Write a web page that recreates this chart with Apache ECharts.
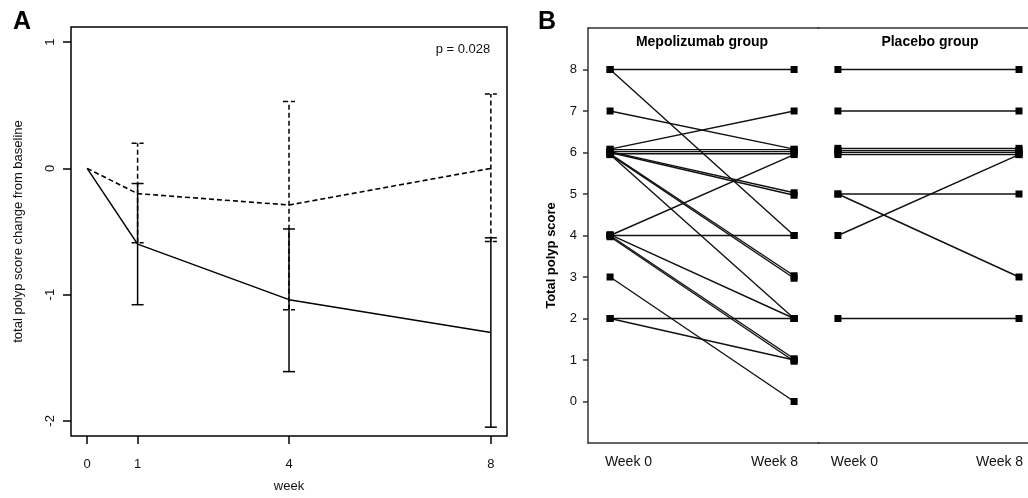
<!DOCTYPE html>
<html><head><meta charset="utf-8">
<script src="https://cdn.jsdelivr.net/npm/echarts@6/dist/echarts.min.js"></script>
<style>html,body{margin:0;padding:0;background:#fff}#c{width:1028px;height:498px}</style>
</head><body><div id="c"></div>
<script>
// ---------- Panel A: mean change from baseline ----------
const weeksA = [0, 1, 4, 8];
const mepoMeanA = [0, -0.6, -1.04, -1.3];
const mepoLowA = [null, -1.08, -1.61, -2.05];
const mepoHighA = [null, -0.12, -0.48, -0.55];
const placMeanA = [0, -0.2, -0.29, 0];
const placLowA = [null, -0.59, -1.12, -0.58];
const placHighA = [null, 0.2, 0.53, 0.59];
const yTicksA = [-2, -1, 0, 1];
const pText = 'p = 0.028';

// ---------- Panel B: individual scores ----------
const timeLabels = ['Week 0', 'Week 8'];
const timeWeeks = [0, 8];
const mepoWeek0 = [8, 8, 7, 6.08, 6.07, 6.02, 5.97, 6.02, 6.0, 5.97, 5.95, 5.95, 4, 4, 4.02, 4, 3.97, 3, 2, 2];
const mepoWeek8 = [8, 4, 6.08, 7, 6.07, 6.02, 5.97, 5.03, 4.97, 3.03, 2.97, 2, 5.95, 4, 2, 1.03, 0.97, 0, 2, 1];
const placWeek0 = [8, 7, 6.1, 6.05, 6.0, 5.95, 5, 5, 4, 2];
const placWeek8 = [8, 7, 6.1, 6.05, 6.0, 5.95, 5, 3, 5.95, 2];
const yTicksB = [0, 1, 2, 3, 4, 5, 6, 7, 8];

const FONT = '"Liberation Sans", Arial, sans-serif';
const chart = echarts.init(document.getElementById('c'), null, {renderer: 'canvas'});

function errData(low, high) {
  const d = [];
  weeksA.forEach((w, i) => { if (low[i] != null) d.push([w, low[i], high[i]]); });
  return d;
}
function errRender(dashed) {
  return function (params, api) {
    const x = api.value(0), lo = api.value(1), hi = api.value(2);
    const p1 = api.coord([x, lo]), p2 = api.coord([x, hi]);
    const hw = 6;
    const style = {stroke: '#000', lineWidth: 1.5, lineDash: dashed ? [5, 3] : null, fill: null};
    return {type: 'group', children: [
      {type: 'line', shape: {x1: p1[0], y1: p1[1], x2: p2[0], y2: p2[1]}, style},
      {type: 'line', shape: {x1: p1[0] - hw, y1: p1[1], x2: p1[0] + hw, y2: p1[1]}, style},
      {type: 'line', shape: {x1: p2[0] - hw, y1: p2[1], x2: p2[0] + hw, y2: p2[1]}, style}
    ]};
  };
}

const series = [
  {type: 'line', xAxisIndex: 0, yAxisIndex: 0, data: weeksA.map((w, i) => [w, mepoMeanA[i]]),
   showSymbol: false, symbol: 'none', lineStyle: {color: '#000', width: 1.5}, animation: false},
  {type: 'line', xAxisIndex: 0, yAxisIndex: 0, data: weeksA.map((w, i) => [w, placMeanA[i]]),
   showSymbol: false, symbol: 'none', lineStyle: {color: '#000', width: 1.6, type: [5, 3]}, animation: false},
  {type: 'custom', xAxisIndex: 0, yAxisIndex: 0, data: errData(mepoLowA, mepoHighA),
   encode: {x: 0, y: [1, 2]}, renderItem: errRender(false), animation: false},
  {type: 'custom', xAxisIndex: 0, yAxisIndex: 0, data: errData(placLowA, placHighA),
   encode: {x: 0, y: [1, 2]}, renderItem: errRender(true), animation: false}
];

function addPatients(w0, w8, xi, yi) {
  w0.forEach((v, i) => {
    series.push({type: 'line', xAxisIndex: xi, yAxisIndex: yi,
      data: [[timeWeeks[0], v], [timeWeeks[1], w8[i]]],
      symbol: 'rect', symbolSize: 7, showSymbol: true,
      itemStyle: {color: '#000'}, lineStyle: {color: '#111', width: 1.4}, animation: false});
  });
}
addPatients(mepoWeek0, mepoWeek8, 1, 1);
addPatients(placWeek0, placWeek8, 3, 2);

const labelFmt = v => (v < 4 ? timeLabels[0] : timeLabels[1]);
const lineStyleB = {color: '#333', width: 1.5};

const option = {
  backgroundColor: '#fff',
  animation: false,
  grid: [
    {left: 71, top: 27, width: 436, height: 415, show: true, borderColor: '#000', borderWidth: 1.5, backgroundColor: 'transparent'},
    {left: 588, top: 28, width: 231, height: 415, show: false},
    {left: 818, top: 28, width: 210, height: 415, show: false}
  ],
  xAxis: [
    {type: 'value', gridIndex: 0, min: -0.32, max: 8.32, position: 'bottom',
     axisLine: {show: false, onZero: false}, splitLine: {show: false},
     axisTick: {show: true, customValues: weeksA, length: 8, lineStyle: {color: '#000', width: 1.5}},
     axisLabel: {customValues: weeksA, margin: 22, fontSize: 13, color: '#111', fontFamily: FONT},
     name: 'week', nameLocation: 'middle', nameGap: 44,
     nameTextStyle: {fontSize: 13, color: '#111', fontFamily: FONT}},
    {type: 'value', gridIndex: 1, min: -0.96, max: 9.083, position: 'bottom',
     axisLine: {show: true, onZero: false, lineStyle: lineStyleB}, splitLine: {show: false},
     axisTick: {show: false},
     axisLabel: {customValues: [0.8, 7.15], formatter: labelFmt, margin: 12, fontSize: 14, color: '#111', fontFamily: FONT}},
    {type: 'value', gridIndex: 1, min: -0.96, max: 9.083, position: 'top',
     axisLine: {show: true, onZero: false, lineStyle: lineStyleB}, splitLine: {show: false},
     axisTick: {show: false}, axisLabel: {show: false}},
    {type: 'value', gridIndex: 2, min: -0.88, max: 8.398, position: 'bottom',
     axisLine: {show: true, onZero: false, lineStyle: lineStyleB}, splitLine: {show: false},
     axisTick: {show: false},
     axisLabel: {customValues: [0.73, 7.14], formatter: labelFmt, margin: 12, fontSize: 14, color: '#111', fontFamily: FONT}},
    {type: 'value', gridIndex: 2, min: -0.88, max: 8.398, position: 'top',
     axisLine: {show: true, onZero: false, lineStyle: lineStyleB}, splitLine: {show: false},
     axisTick: {show: false}, axisLabel: {show: false}}
  ],
  yAxis: [
    {type: 'value', gridIndex: 0, min: -2.12, max: 1.12, position: 'left',
     axisLine: {show: false, onZero: false}, splitLine: {show: false},
     axisTick: {show: true, customValues: yTicksA, length: 8, lineStyle: {color: '#000', width: 1.5}},
     axisLabel: {customValues: yTicksA, rotate: 90, margin: 14, fontSize: 13, color: '#111', fontFamily: FONT},
     name: 'total polyp score change from baseline', nameLocation: 'middle', nameGap: 46, nameRotate: 90,
     nameTextStyle: {fontSize: 13, color: '#111', fontFamily: FONT}},
    {type: 'value', gridIndex: 1, min: -1, max: 9, position: 'left',
     axisLine: {show: true, onZero: false, lineStyle: lineStyleB}, splitLine: {show: false},
     axisTick: {show: true, customValues: yTicksB, length: 5, lineStyle: lineStyleB},
     axisLabel: {customValues: yTicksB, margin: 11, fontSize: 13, color: '#111', fontFamily: FONT},
     name: 'Total polyp score', nameLocation: 'middle', nameGap: 30, nameRotate: 90,
     nameTextStyle: {fontSize: 13, fontWeight: 'bold', color: '#000', fontFamily: FONT, padding: [0, 40, 0, 0]}},
    {type: 'value', gridIndex: 2, min: -1, max: 9, position: 'left',
     axisLine: {show: false, onZero: false}, axisTick: {show: false}, axisLabel: {show: false},
     splitLine: {show: false}}
  ],
  graphic: [
    {type: 'text', x: 22, y: 22, style: {text: 'A', font: 'bold 25px ' + FONT, fill: '#000', align: 'center', verticalAlign: 'middle'}},
    {type: 'text', x: 547, y: 22, style: {text: 'B', font: 'bold 25px ' + FONT, fill: '#000', align: 'center', verticalAlign: 'middle'}},
    {type: 'text', x: 463, y: 49, style: {text: pText, font: '13px ' + FONT, fill: '#111', align: 'center', verticalAlign: 'middle'}},
    {type: 'text', x: 702, y: 42, style: {text: 'Mepolizumab group', font: 'bold 14px ' + FONT, fill: '#000', align: 'center', verticalAlign: 'middle'}},
    {type: 'text', x: 930, y: 42, style: {text: 'Placebo group', font: 'bold 14px ' + FONT, fill: '#000', align: 'center', verticalAlign: 'middle'}}
  ],
  series: series
};
chart.setOption(option);
</script>
</body></html>
